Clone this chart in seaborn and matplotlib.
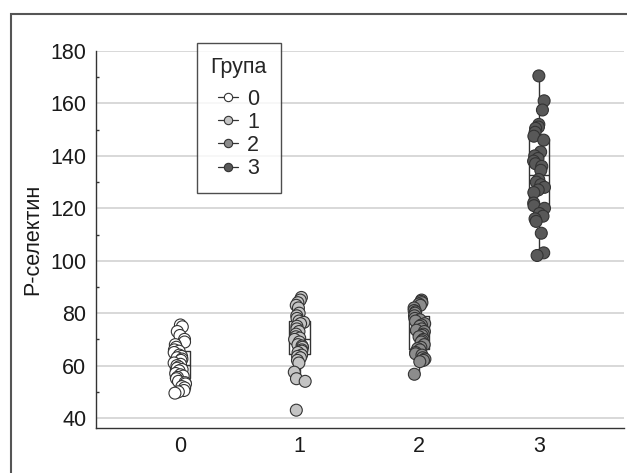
import numpy as np
import pandas as pd
import matplotlib
matplotlib.use('Agg')
import matplotlib.pyplot as plt
import seaborn as sns
from matplotlib.lines import Line2D
from matplotlib.patches import Rectangle
from matplotlib.ticker import MultipleLocator

# P-selectin values per group
group_labels = ['0', '1', '2', '3']
group0 = [75.5, 74.8, 73, 71.5, 70, 69, 68, 67, 66, 65.5, 65, 64, 63.5, 63, 62.5, 62,
          61, 60.5, 60, 59.5, 59, 58.5, 58, 57, 56.5, 56, 55.5, 55, 54, 53.5, 53, 52,
          51.5, 50.5, 50, 49.5]
group1 = [86, 85, 84, 83, 82, 80, 79, 78, 77, 76.5, 76, 75, 74, 73, 72, 71, 70.5, 70,
          69, 68, 67.5, 67, 66, 65.5, 65, 64, 63.5, 63, 62, 61, 57.5, 55, 54, 43]
group2 = [85, 84.5, 84, 83.5, 83, 82, 81, 80.5, 80, 79, 78, 77.5, 77, 76, 75.5, 75, 74,
          73.5, 73, 72, 71.5, 71, 70, 69.5, 69, 68, 67, 66.5, 66, 65, 64.5, 64, 63, 62.5,
          62, 61.5, 56.7]
group3 = [170.5, 161, 157.5, 152, 151, 150.5, 149, 147.5, 146, 141.5, 140, 139, 138, 137,
          136, 134.5, 131, 130, 129, 128, 127, 126, 122, 121, 120, 118, 117, 116, 115,
          110.5, 103, 102]
group_colors = ['#ffffff', '#c4c4c4', '#8c8c8c', '#585858']

values = [group0, group1, group2, group3]
df = pd.DataFrame({
    'Група': np.concatenate([[g] * len(v) for g, v in zip(group_labels, values)]),
    'Р-селектин': np.concatenate(values),
})

sns.set_style('white')
plt.rcParams['font.family'] = ['Liberation Sans', 'DejaVu Sans']
FS = 15.5

fig = plt.figure(figsize=(6.27, 4.73), dpi=100)
ax = fig.add_axes([96 / 627, 1 - 428 / 473, 528 / 627, 377 / 473])

edge = '#333333'
sns.boxplot(data=df, x='Група', y='Р-селектин', order=group_labels, fill=False,
            color=edge, width=0.17, showfliers=False, showcaps=False,
            linewidth=1.0, whis=1.5, ax=ax)

np.random.seed(3)
sns.stripplot(data=df, x='Група', y='Р-селектин', order=group_labels, hue='Група',
              hue_order=group_labels, palette=group_colors, size=8.6, jitter=0.05,
              edgecolor=edge, linewidth=0.8, legend=False, ax=ax, zorder=3)

ax.set_xlim(-0.7, 3.71)
ax.set_ylim(36.2, 180)
ax.yaxis.set_major_locator(MultipleLocator(20))
ax.yaxis.set_minor_locator(MultipleLocator(10))
ax.grid(axis='y', which='major', color='#d2d2d2', linewidth=1.2, zorder=0)
ax.set_axisbelow(True)

for side in ['top', 'right']:
    ax.spines[side].set_visible(False)
for side in ['left', 'bottom']:
    ax.spines[side].set_color(edge)
    ax.spines[side].set_linewidth(1.0)

ax.tick_params(axis='both', which='major', direction='in', length=4.5, width=1,
               color=edge, labelsize=FS, labelcolor='#1a1a1a', pad=7)
ax.tick_params(axis='y', which='minor', direction='in', length=2.5, width=1, color=edge,
               left=True)
ax.tick_params(axis='x', pad=6)
ax.set_xlabel('')
ax.set_ylabel('Р-селектин', fontsize=FS, color='#1a1a1a', labelpad=5)

handles = [Line2D([0], [0], color=edge, linewidth=0.9, marker='o', markersize=6,
                  markerfacecolor=c, markeredgecolor=edge, markeredgewidth=0.8)
           for c in group_colors]
leg = fig.legend(handles, group_labels, title='Група', loc='upper left',
                 bbox_to_anchor=(197 / 627, 1 - 43 / 473), borderaxespad=0,
                 fontsize=FS, title_fontsize=FS, frameon=True, fancybox=False,
                 handlelength=0.9, handletextpad=0.45, labelspacing=0.1,
                 borderpad=0.63)
leg._legend_box.sep = 8
leg.get_frame().set_edgecolor('#222222')
leg.get_frame().set_linewidth(1.0)

# outer frame of the figure
fig.patches.append(Rectangle((11 / 627, -0.2), 2, 1.2 - 14 / 473, transform=fig.transFigure,
                             fill=False, edgecolor='#555555', linewidth=1.5))

fig.savefig('out.png', dpi=100)
